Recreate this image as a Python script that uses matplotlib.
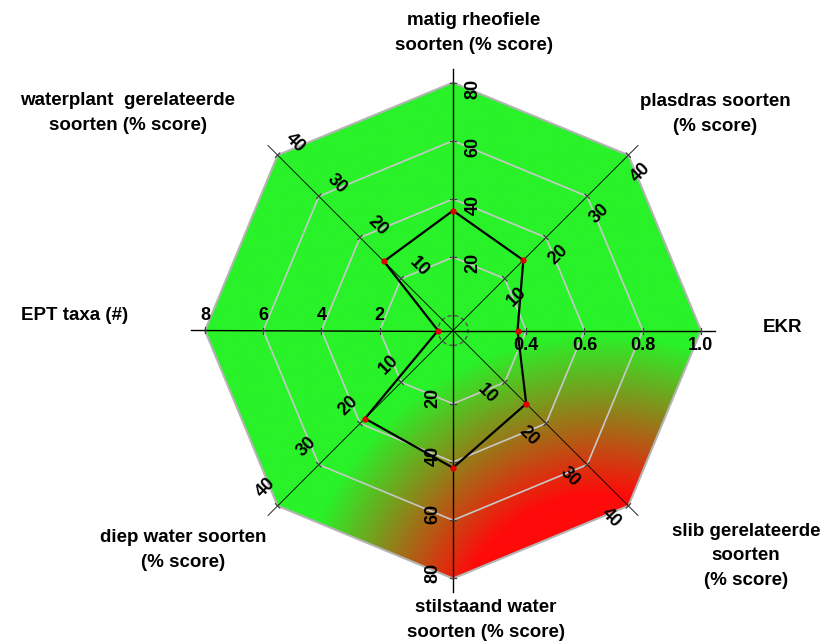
import numpy as np
import matplotlib.pyplot as plt
from matplotlib.patches import Polygon, Circle
from matplotlib.colors import to_rgb

plt.rcParams['font.family'] = ['Liberation Sans', 'DejaVu Sans']

# axes of the radar, counter-clockwise starting at the right
categories = ['EKR',
              'plasdras soorten\n(% score)',
              'matig rheofiele\nsoorten (% score)',
              'waterplant  gerelateerde\nsoorten (% score)',
              'EPT taxa (#)',
              'diep water soorten\n(% score)',
              'stilstaand water\nsoorten (% score)',
              'slib gerelateerde\nsoorten\n(% score)']
axis_min = [0.2, 0, 0, 0, 0, 0, 0, 0]
axis_max = [1.0, 40, 80, 40, 8, 40, 80, 40]
tick_labels = [['0.4', '0.6', '0.8', '1.0'],
               ['10', '20', '30', '40'],
               ['20', '40', '60', '80'],
               ['10', '20', '30', '40'],
               ['2', '4', '6', '8'],
               ['10', '20', '30', '40'],
               ['20', '40', '60', '80'],
               ['10', '20', '30', '40']]
values = [0.37, 14.5, 36, 14.2, 0, 18.8, 42, 15.2]

# layout (one unit = outer ring radius, 248 px)
px = 1 / 248.0
r0 = 15 * px
n = len(categories)
angles = np.deg2rad(np.arange(n) * 45.0)
green = np.array(to_rgb('#29F229'))
red = np.array(to_rgb('#FF0A0A'))


def radius(v, i):
    return r0 + (v - axis_min[i]) / (axis_max[i] - axis_min[i]) * (1 - r0)


fig = plt.figure(figsize=(8.29, 6.41), dpi=100)
ax = fig.add_axes([0, 0, 1, 1])
ax.set_xlim(-453 * px, 376 * px)
ax.set_ylim(-310.5 * px, 330.5 * px)
ax.axis('off')

# background octagon with green -> red radial gradient from the lower right
outer = np.column_stack([np.cos(angles), np.sin(angles)])
octo = Polygon(outer, closed=True, facecolor='none', edgecolor='#b4b4b4', lw=1.5, zorder=2)
ax.add_patch(octo)
gx, gy = np.meshgrid(np.linspace(-1, 1, 600), np.linspace(-1, 1, 600))
dist = np.hypot(gx - 147 * px, gy + 309.5 * px)
t = np.clip((305 * px - dist) / (160 * px), 0, 1)
img = green * (1 - t[..., None]) + red * t[..., None]
im = ax.imshow(img, extent=(-1, 1, -1, 1), origin='lower', zorder=0, interpolation='bilinear')
im.set_clip_path(octo)

# rings
for k in range(1, 4):
    rk = r0 + k / 4 * (1 - r0)
    ax.add_patch(Polygon(outer * rk, closed=True, facecolor='none', edgecolor='#c8c8c8', lw=1.2, zorder=1))
ax.add_patch(Circle((0, 0), r0, facecolor='none', edgecolor='#555555', lw=1.0, ls=(0, (3, 2)), zorder=2))

# spokes, tick marks and tick labels
for i, a in enumerate(angles):
    ux, uy = np.cos(a), np.sin(a)
    straight = i % 2 == 0
    ax.plot([0, 1.055 * ux], [0, 1.055 * uy], color='black', lw=1.0 if straight else 0.6, zorder=3)
    deg = np.rad2deg(a)
    rot = deg if -90 < deg <= 90 else deg - 180
    if deg >= 270:
        rot = deg - 360 if deg > 270 else 90
    if i % 4 == 0:
        off, shift = 15 * px, 0
    elif i % 4 == 2:
        off, shift = 20 * px, -6 * px
    else:
        off, shift = 21 * px, -4 * px
    # perpendicular, clockwise from the spoke
    px_, py_ = uy, -ux
    for k, lab in enumerate(tick_labels[i]):
        rk = r0 + (k + 1) / 4 * (1 - r0)
        cx, cy = rk * ux, rk * uy
        ax.plot([cx - 3 * px * px_, cx + 3 * px * px_], [cy - 3 * px * py_, cy + 3 * px * py_],
                color='#404040', lw=0.9, zorder=3)
        ax.text(cx + off * px_ + shift * ux, cy + off * py_ + shift * uy, lab,
                rotation=rot, ha='center', va='center', fontsize=13, fontweight='bold', zorder=5)

# data polygon
rr = np.array([radius(v, i) for i, v in enumerate(values)])
xs = np.append(rr * np.cos(angles), rr[0])
ys = np.append(rr * np.sin(angles), rr[0] * np.sin(angles[0]))
ax.plot(xs, ys, color='black', lw=1.6, zorder=4)
ax.plot(xs[:-1], ys[:-1], 'o', color='#e00000', ms=3.5, zorder=5)

# category labels
label_pos = [(783, 328), (715, 114), (474, 33), (128, 113),
             (75, 316), (183, 550), (486, 620), (746, 556)]
for lab, (lx, ly) in zip(categories, label_pos):
    ax.text((lx - 453) * px, (330.5 - ly) * px, lab, ha='center', va='center',
            fontsize=13.5, fontweight='bold', linespacing=1.6, zorder=5)

fig.savefig('out.png', dpi=100)
